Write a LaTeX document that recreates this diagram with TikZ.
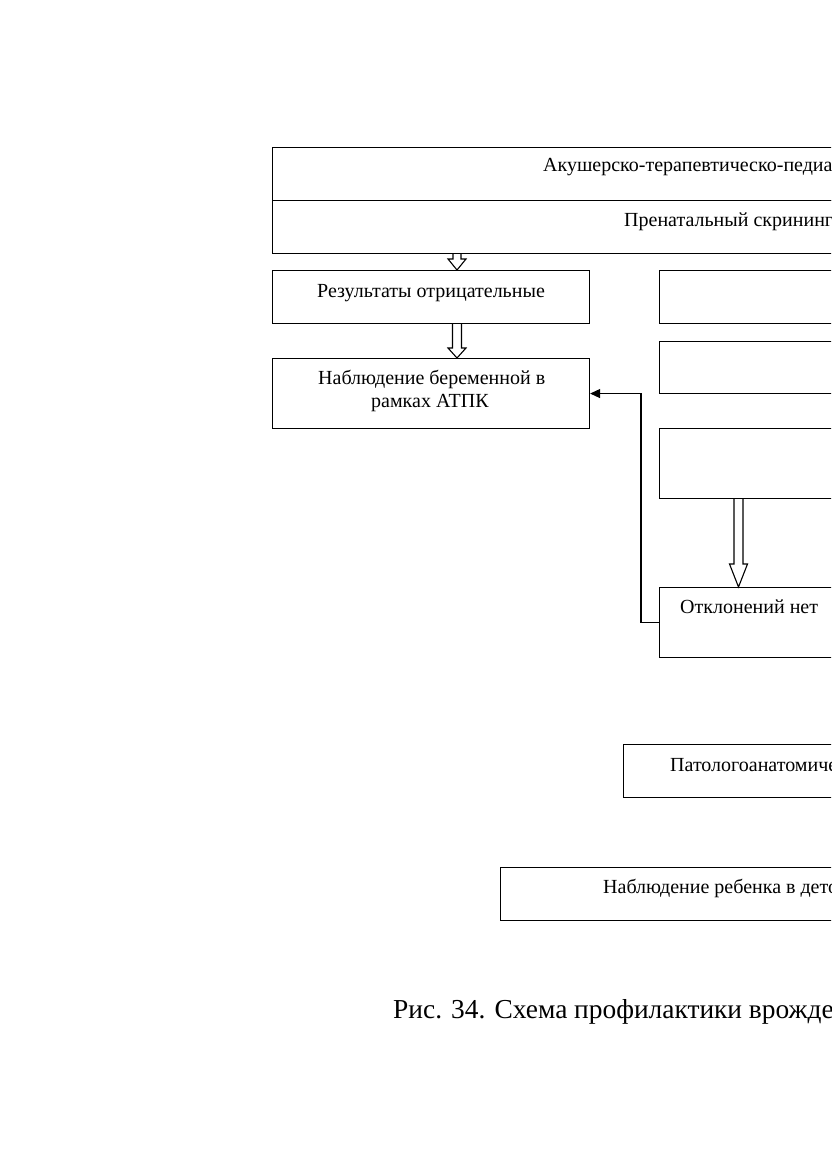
\documentclass[tikz,border=0pt]{standalone}
\usepackage{fontspec}
\setmainfont{Liberation Serif}
\usetikzlibrary{calc,arrows.meta}
\tikzset{
  box/.style={draw, line width=1.1pt, anchor=north west, inner sep=0pt},
  txt/.style={font=\fontsize{20}{23}\selectfont, inner sep=0pt, anchor=base west},
  hollow/.style={draw, line width=1.1pt, fill=white},
  link/.style={draw, line width=1.1pt, -{Triangle[length=10pt,width=9pt]}}
}
% hollow arrow: #1 start, #2 tip, #3 shaft half width, #4 head half width, #5 head length
\newcommand\harrow[5]{%
  \path[hollow] let \p1=(#1), \p2=(#2) in
    (\x1-#3,\y1) -- (\x1-#3,\y2+#5) -- (\x1-#4,\y2+#5) -- (\x1,\y2)
    -- (\x1+#4,\y2+#5) -- (\x1+#3,\y2+#5) -- (\x1+#3,\y1);}
\begin{document}
\begin{tikzpicture}[x=1pt,y=-1pt]
\useasboundingbox (0,0) rectangle (831,1174);
\clip (0,0) rectangle (831,1174);
% top double box
\node[box, minimum width=700pt, minimum height=53pt] (top1) at (272,147) {};
\node[box, minimum width=700pt, minimum height=53pt] (top2) at (272,200) {};
\node[txt] (t1) at (543,172) {Акушерско-терапевтическо-педиа};
\node[txt] (t2) at (624,227) {Пренатальный скрининг};
% left column
\node[box, minimum width=317pt, minimum height=53pt] (res) at (272,270) {};
\node[txt] (tres) at (317,297) {Результаты отрицательные};
\node[box, minimum width=317pt, minimum height=70pt] (nab) at (272,358) {};
\node[txt] (tnab1) at (318,384) {Наблюдение беременной в};
\node[txt] (tnab2) at (371,407) {рамках АТПК};
% right column
\node[box, minimum width=300pt, minimum height=53pt] (r1) at (659,270) {};
\node[box, minimum width=300pt, minimum height=52pt] (r2) at (659,341) {};
\node[box, minimum width=300pt, minimum height=70pt] (r3) at (659,428) {};
\node[box, minimum width=300pt, minimum height=70pt] (otk) at (659,587) {};
\node[txt] (totk) at (680,613) {Отклонений нет};
% lower boxes
\node[box, minimum width=400pt, minimum height=53pt] (pat) at (623,744) {};
\node[txt] (tpat) at (670,771) {Патологоанатомиче};
\node[box, minimum width=500pt, minimum height=53pt] (chl) at (500,867) {};
\node[txt] (tchl) at (603,893) {Наблюдение ребенка в дето};
% caption
\node[txt, font=\fontsize{27.4}{30}\selectfont] (cap) at (393,1018) {Рис. 34. Схема профилактики врожде};
% hollow arrows
\coordinate (a1s) at ($(top2.south west)+(185,0)$);
\coordinate (a1e) at (a1s |- res.north);
\harrow{a1s}{a1e}{4pt}{9pt}{11pt}
\coordinate (a2s) at ($(res.south west)+(185,0)$);
\coordinate (a2e) at (a2s |- nab.north);
\harrow{a2s}{a2e}{4.5pt}{9pt}{10pt}
\coordinate (a3s) at ($(r3.south west)+(79.5,0)$);
\coordinate (a3e) at (a3s |- otk.north);
\harrow{a3s}{a3e}{4.5pt}{9pt}{23pt}
% connector
\draw[link] (otk.west) -- ++(-18,0) |- (nab.east);
\end{tikzpicture}
\end{document}
